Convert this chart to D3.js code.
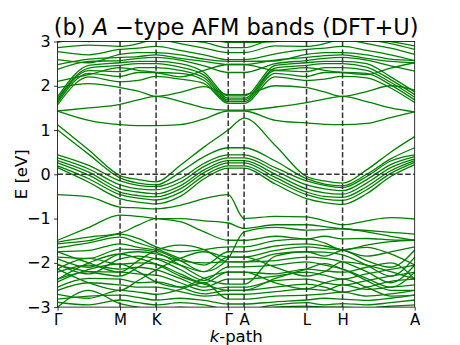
<!DOCTYPE html>
<html>
<head>
<meta charset="utf-8">
<script src="https://cdn.jsdelivr.net/npm/d3@7"></script>
<style>
  body { margin: 0; background: #fff; }
  svg { display: block; font-family: "DejaVu Sans", sans-serif; }
</style>
</head>
<body>
<div id="chart"></div>
<script>
// k-point positions along the path (sample points for every band)
const kPath = [0, 0.5, 1.0, 1.289, 1.577, 1.962, 2.347, 2.732, 2.986, 3.486, 3.986, 4.275, 4.563, 4.948, 5.333, 5.718];
// high-symmetry points
const symK = [0, 1.0, 1.577, 2.732, 2.986, 3.986, 4.563, 5.718];
const symLabels = ["Γ", "M", "K", "Γ", "A", "L", "H", "A"];
const yTicks = [-3, -2, -1, 0, 1, 2, 3];

// conduction bands above 1.5 eV (eV at each kPath point)
const upperBands = [
    [1.57, 2.20, 2.09, 2.12, 2.21, 2.15, 2.05, 1.60, 1.60, 2.20, 2.12, 2.15, 2.21, 2.18, 1.95, 1.62],
    [1.62, 2.28, 2.21, 2.30, 2.30, 2.28, 2.12, 1.64, 1.64, 2.28, 2.21, 2.30, 2.30, 2.28, 2.02, 1.68],
    [1.66, 2.34, 2.32, 2.41, 2.41, 2.35, 2.18, 1.68, 1.68, 2.34, 2.32, 2.41, 2.41, 2.35, 2.08, 1.74],
    [1.70, 2.40, 2.46, 2.50, 2.50, 2.42, 2.24, 1.72, 1.72, 2.40, 2.46, 2.50, 2.50, 2.42, 2.14, 1.80],
    [1.75, 2.46, 2.52, 2.55, 2.55, 2.50, 2.30, 1.77, 1.77, 2.46, 2.52, 2.55, 2.55, 2.50, 2.20, 1.86],
    [1.96, 2.05, 1.96, 1.88, 1.76, 1.85, 1.98, 1.80, 1.80, 2.00, 1.96, 1.86, 1.76, 1.87, 2.00, 1.90],
    [2.37, 2.55, 2.57, 2.62, 2.64, 2.58, 2.45, 2.30, 2.30, 2.50, 2.57, 2.62, 2.64, 2.58, 2.45, 2.33],
    [2.48, 2.60, 2.64, 2.66, 2.70, 2.62, 2.55, 2.48, 2.48, 2.58, 2.64, 2.68, 2.70, 2.62, 2.55, 2.52],
    [2.59, 2.52, 2.71, 2.75, 2.75, 2.70, 2.60, 2.55, 2.55, 2.56, 2.71, 2.75, 2.75, 2.70, 2.60, 2.57],
    [2.77, 2.70, 2.82, 2.85, 2.89, 2.80, 2.70, 2.59, 2.59, 2.72, 2.82, 2.85, 2.89, 2.80, 2.70, 2.57],
    [2.86, 2.92, 2.89, 2.95, 3.05, 2.95, 2.85, 2.75, 2.75, 2.90, 2.89, 2.95, 3.05, 2.95, 2.85, 2.71],
    [2.98, 3.10, 3.00, 3.10, 3.20, 3.05, 2.98, 2.86, 2.86, 3.05, 3.00, 3.10, 3.20, 3.05, 2.95, 2.82],
    [3.20, 3.00, 3.15, 3.20, 3.30, 3.20, 3.10, 2.98, 2.98, 3.00, 3.15, 3.20, 3.30, 3.10, 3.00, 2.90],
    [2.10, 2.25, 2.41, 2.35, 2.30, 2.20, 2.35, 2.48, 2.48, 2.35, 2.41, 2.35, 2.30, 2.25, 2.40, 2.52]
];

// bands between 1 and 1.8 eV
const midBands = [
    [1.43, 1.22, 1.12, 1.10, 1.10, 1.12, 1.25, 1.43, 1.43, 1.22, 1.16, 1.13, 1.12, 1.15, 1.28, 1.41],
    [1.43, 1.50, 1.58, 1.68, 1.76, 1.65, 1.50, 1.45, 1.45, 1.52, 1.62, 1.70, 1.76, 1.64, 1.50, 1.41]
];

// bands crossing the Fermi level
const gapBands = [
    [1.12, 0.55, -0.03, -0.12, -0.17, 0.20, 0.62, 1.00, 1.27, 0.65, -0.05, -0.15, -0.20, 0.10, 0.50, 0.85],
    [1.00, 0.45, -0.08, -0.20, -0.24, 0.05, 0.40, 0.60, 0.60, 0.30, -0.10, -0.22, -0.26, 0.00, 0.35, 0.60],
    [0.44, 0.20, -0.15, -0.25, -0.28, -0.10, 0.25, 0.44, 0.44, 0.15, -0.15, -0.25, -0.30, -0.05, 0.30, 0.44],
    [0.37, 0.12, -0.24, -0.33, -0.35, -0.18, 0.18, 0.37, 0.37, 0.08, -0.24, -0.33, -0.37, -0.12, 0.22, 0.40],
    [0.31, 0.05, -0.33, -0.40, -0.44, -0.26, 0.10, 0.31, 0.31, 0.00, -0.33, -0.42, -0.45, -0.20, 0.15, 0.35],
    [0.26, -0.02, -0.40, -0.48, -0.51, -0.33, 0.04, 0.26, 0.26, -0.07, -0.40, -0.50, -0.52, -0.28, 0.08, 0.31],
    [0.19, -0.10, -0.46, -0.54, -0.58, -0.41, -0.03, 0.19, 0.19, -0.14, -0.46, -0.56, -0.59, -0.35, 0.02, 0.27],
    [0.15, -0.18, -0.55, -0.63, -0.67, -0.50, -0.10, 0.14, 0.14, -0.22, -0.55, -0.64, -0.68, -0.44, -0.05, 0.22]
];

// valence bands
const valenceBands = [
    [-0.46, -0.51, -0.74, -0.76, -0.78, -0.70, -0.55, -0.46, -1.00, -0.95, -0.96, -1.05, -1.14, -1.05, -0.98, -1.01],
    [-1.49, -1.20, -0.92, -0.95, -1.00, -1.07, -1.30, -1.49, -1.49, -1.40, -1.46, -1.40, -1.46, -1.45, -1.48, -1.49],
    [-1.53, -1.42, -1.33, -1.15, -1.00, -1.00, -1.05, -1.10, -1.22, -1.14, -1.14, -1.18, -1.23, -1.27, -1.31, -1.35],
    [-2.05, -2.20, -2.30, -2.10, -1.90, -2.05, -2.20, -1.90, -1.30, -1.20, -1.26, -1.25, -1.23, -1.30, -1.40, -1.49],
    [-1.57, -1.50, -1.35, -1.45, -1.64, -1.75, -1.70, -1.64, -1.64, -1.50, -1.46, -1.55, -1.71, -1.60, -1.52, -1.49],
    [-1.66, -1.55, -1.42, -1.55, -1.68, -1.90, -2.05, -1.75, -1.75, -1.62, -1.57, -1.62, -1.71, -1.85, -1.75, -1.64],
    [-1.75, -1.72, -1.57, -1.65, -1.72, -1.95, -2.20, -1.87, -1.87, -1.72, -1.64, -1.68, -1.71, -1.95, -2.10, -1.71],
    [-1.87, -1.90, -1.69, -1.70, -1.76, -2.05, -2.35, -2.48, -2.48, -1.85, -1.75, -1.76, -1.82, -2.05, -2.30, -1.87],
    [-1.91, -2.10, -1.80, -1.75, -1.80, -1.95, -2.00, -1.98, -1.98, -1.95, -1.87, -1.90, -1.98, -2.20, -2.45, -2.05],
    [-2.03, -2.25, -1.91, -1.85, -1.91, -2.15, -2.40, -2.09, -2.09, -2.05, -1.98, -2.05, -2.14, -2.35, -2.55, -2.21],
    [-2.14, -1.90, -2.03, -2.00, -2.03, -2.25, -2.45, -2.21, -2.21, -2.25, -2.14, -2.18, -2.21, -2.10, -2.00, -2.37],
    [-2.21, -2.05, -2.14, -2.10, -2.16, -2.35, -2.55, -2.37, -2.37, -2.30, -2.21, -2.28, -2.37, -2.25, -2.15, -2.05],
    [-2.37, -2.20, -2.21, -2.25, -2.28, -2.45, -2.62, -2.55, -2.55, -2.40, -2.37, -2.45, -2.50, -2.40, -2.30, -2.21],
    [-2.55, -2.35, -2.37, -2.45, -2.43, -2.55, -2.70, -2.62, -2.62, -2.55, -2.48, -2.55, -2.66, -2.55, -2.42, -2.37],
    [-2.62, -2.45, -2.50, -2.55, -2.55, -2.65, -2.75, -2.71, -2.71, -2.65, -2.59, -2.62, -2.50, -2.60, -2.55, -2.50],
    [-2.71, -2.80, -2.62, -2.66, -2.71, -2.60, -2.45, -2.82, -2.82, -2.75, -2.73, -2.70, -2.66, -2.75, -2.70, -2.62],
    [-2.82, -2.75, -2.73, -2.78, -2.84, -2.80, -2.85, -2.93, -2.93, -2.88, -2.84, -2.80, -2.82, -2.85, -2.80, -2.73],
    [-2.89, -2.95, -2.84, -2.90, -2.95, -2.90, -2.95, -3.05, -3.05, -2.95, -2.90, -2.95, -2.92, -2.95, -2.90, -2.84],
    [-3.00, -2.62, -2.92, -3.00, -3.05, -3.00, -3.05, -3.10, -3.10, -3.00, -2.98, -3.00, -3.00, -3.02, -2.98, -2.95],
    [-2.14, -2.45, -2.62, -2.40, -2.16, -1.90, -1.75, -1.87, -1.87, -2.10, -2.30, -2.20, -1.98, -2.05, -2.20, -2.37],
    [-2.37, -2.00, -1.80, -1.90, -2.03, -2.30, -2.48, -2.62, -2.62, -2.35, -2.14, -2.02, -2.14, -2.40, -2.62, -2.62],
    [-2.43, -2.15, -2.03, -2.20, -2.43, -2.55, -2.35, -2.21, -2.21, -2.45, -2.59, -2.45, -2.37, -2.55, -2.75, -2.73],
    [-1.75, -2.00, -2.21, -1.95, -1.72, -1.60, -1.70, -1.98, -1.98, -1.80, -1.75, -1.85, -1.71, -1.65, -1.80, -2.05]
];

const bands = upperBands.concat(midBands, gapBands, valenceBands);

const width = 460;
const height = 345;
const margin = {left: 57.6, right: 45.3, top: 41.5, bottom: 37.9};
const plotW = width - margin.left - margin.right;
const plotH = height - margin.top - margin.bottom;

const svg = d3.select("#chart")
    .append("svg")
    .attr("width", width)
    .attr("height", height);

const x = d3.scaleLinear()
    .domain([0, kPath[kPath.length - 1]])
    .range([margin.left, margin.left + plotW]);

const y = d3.scaleLinear()
    .domain([-3, 3])
    .range([margin.top + plotH, margin.top]);

// Clip everything to the axes box
svg.append("defs").append("clipPath")
    .attr("id", "plot-clip")
    .append("rect")
    .attr("x", margin.left)
    .attr("y", margin.top)
    .attr("width", plotW)
    .attr("height", plotH);

const g = svg.append("g").attr("clip-path", "url(#plot-clip)");

const line = d3.line()
    .curve(d3.curveMonotoneX)
    .x((d, i) => x(kPath[i]))
    .y(d => y(d));

// Bands
g.selectAll("path.band")
    .data(bands)
    .enter().append("path")
    .attr("class", "band")
    .attr("d", line)
    .attr("fill", "none")
    .attr("stroke", "#008000")
    .attr("stroke-width", 1.3);

// Dashed lines at high-symmetry points (not at the ends)
g.selectAll("line.sym")
    .data(symK.slice(1, -1))
    .enter().append("line")
    .attr("x1", d => x(d))
    .attr("x2", d => x(d))
    .attr("y1", margin.top)
    .attr("y2", margin.top + plotH)
    .attr("stroke", "#333")
    .attr("stroke-width", 1.5)
    .attr("stroke-dasharray", "5.5,2.4");

// Fermi level
g.append("line")
    .attr("x1", margin.left)
    .attr("x2", margin.left + plotW)
    .attr("y1", y(0))
    .attr("y2", y(0))
    .attr("stroke", "#333")
    .attr("stroke-width", 1.5)
    .attr("stroke-dasharray", "5.5,2.4");

// Axes
const yAxis = d3.axisLeft(y)
    .tickValues(yTicks)
    .tickSize(3.5)
    .tickPadding(3.5)
    .tickFormat(d => d < 0 ? "\u2212" + Math.abs(d) : d);

svg.append("g")
    .attr("transform", `translate(${margin.left},0)`)
    .call(yAxis)
    .call(a => a.select(".domain").remove())
    .selectAll("text")
    .attr("font-size", 16)
    .attr("font-family", "DejaVu Sans")
    .attr("fill", "#000");

const xAxis = d3.axisBottom(x)
    .tickValues(symK)
    .tickSize(3.5)
    .tickPadding(3.5)
    .tickFormat((d, i) => symLabels[i]);

svg.append("g")
    .attr("transform", `translate(0,${margin.top + plotH})`)
    .call(xAxis)
    .call(a => a.select(".domain").remove())
    .selectAll("text")
    .attr("font-size", 15)
    .attr("font-family", "DejaVu Sans")
    .attr("fill", "#000");

svg.selectAll(".tick line").attr("stroke", "#000").attr("stroke-width", 0.8);

// Frame
svg.append("rect")
    .attr("x", margin.left)
    .attr("y", margin.top)
    .attr("width", plotW)
    .attr("height", plotH)
    .attr("fill", "none")
    .attr("stroke", "#000")
    .attr("stroke-width", 0.8);

// Title
const title = svg.append("text")
    .attr("x", margin.left + plotW / 2)
    .attr("y", margin.top - 7)
    .attr("text-anchor", "middle")
    .attr("font-size", 22.5)
    .attr("fill", "#000");
title.append("tspan").text("(b) ");
title.append("tspan").attr("font-style", "italic").text("A");
title.append("tspan").text(" \u2212type AFM bands (DFT+U)");

// Axis labels
const xLabel = svg.append("text")
    .attr("x", margin.left + plotW / 2)
    .attr("y", 342)
    .attr("text-anchor", "middle")
    .attr("font-size", 16.5)
    .attr("fill", "#000");
xLabel.append("tspan").attr("font-style", "italic").text("k");
xLabel.append("tspan").text("-path");

svg.append("text")
    .attr("transform", `translate(27,${margin.top + plotH / 2}) rotate(-90)`)
    .attr("text-anchor", "middle")
    .attr("font-size", 16.5)
    .attr("fill", "#000")
    .text("E [eV]");
</script>
</body>
</html>
